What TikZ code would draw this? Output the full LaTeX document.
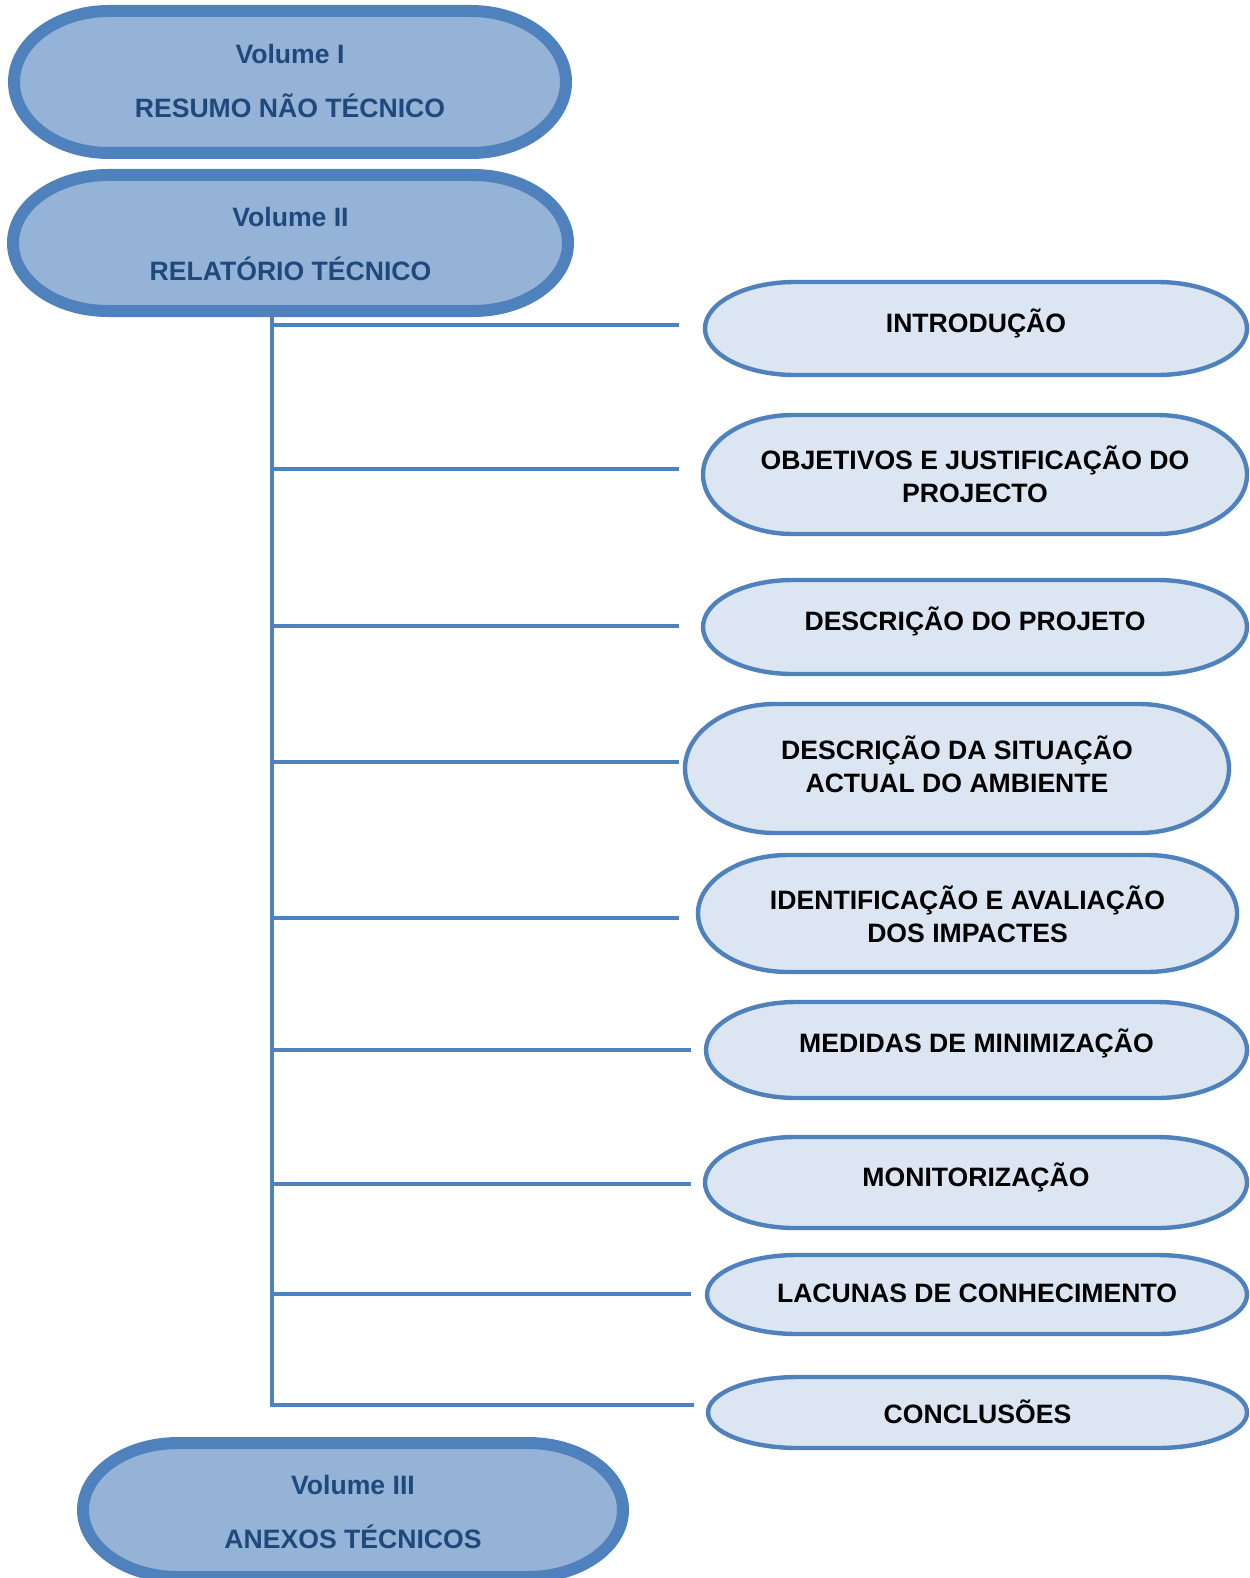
\documentclass[tikz,border=0pt]{standalone}
\usepackage{fontspec}
\setmainfont{Liberation Sans}
\definecolor{bord}{HTML}{4F81BD}
\definecolor{volfill}{HTML}{95B3D7}
\definecolor{secfill}{HTML}{DCE6F2}
\definecolor{voltext}{HTML}{1F497D}
\newcommand\hs{\rule{0pt}{14pt}}
\newcommand\ds{\rule[-4.5pt]{0pt}{4.5pt}}
% #1 name, #2 x1, #3 y1, #4 x2, #5 y2, #6 rx, #7 style, #8 text y, #9 text
\newcommand\capsule[9]{%
  \path[#7] ({#2+#6},#3) -- ({#4-#6},#3)
    arc[start angle=90,end angle=-90,x radius={#6*0.5pt},y radius={(#5-#3)*0.25pt}]
    -- ({#2+#6},#5)
    arc[start angle=270,end angle=90,x radius={#6*0.5pt},y radius={(#5-#3)*0.25pt}]
    -- cycle;
  \node[lbl, #7lbl] (#1) at ({(#2+#4)/2},#8) {#9};}
\tikzset{
  lbl/.style={font=\fontsize{13.3}{16.5}\selectfont\bfseries, align=center, inner sep=0pt},
  volbox/.style={draw=bord, fill=volfill, line width=6pt},
  volboxlbl/.style={text=voltext},
  secbox/.style={draw=bord, fill=secfill, line width=2.2pt},
  secboxlbl/.style={text=black},
  conn/.style={draw=bord, line width=1.6pt},
}
\begin{document}
\begin{tikzpicture}[x=0.5pt,y=-0.5pt]
\useasboundingbox (0,0) rectangle (1249,1578);
\clip (0,0) rectangle (1249,1578);
% connectors
\coordinate (t0) at (272,311);
\coordinate (t9) at (272,1405);
\coordinate (e1) at (679,325);
\coordinate (e2) at (679,469);
\coordinate (e3) at (679,626);
\coordinate (e4) at (679,762);
\coordinate (e5) at (679,918);
\coordinate (e6) at (691,1050);
\coordinate (e7) at (691,1184);
\coordinate (e8) at (691,1294);
\coordinate (e9) at (694,1405);
\draw[conn] (t0) -- (t9) -- (e9);
\foreach \e in {e1,e2,e3,e4,e5,e6,e7,e8}{\draw[conn] (t0 |- \e) -- (\e);}
% volume boxes
\capsule{v1}{14}{11}{566}{153}{95}{volbox}{81}{\hs Volume I\\[10.5pt]RESUMO NÃO TÉCNICO\ds}
\capsule{v2}{13}{175}{568}{311}{95}{volbox}{244}{\hs Volume II\\[10.5pt]RELATÓRIO TÉCNICO\ds}
\capsule{v3}{83}{1443}{623}{1577}{95}{volbox}{1511.5}{\hs Volume III\\[10.5pt]ANEXOS TÉCNICOS\ds}
% section boxes
\capsule{s1}{705}{282}{1247}{375}{90}{secbox}{323}{\hs INTRODUÇÃO\ds}
\capsule{s2}{703}{415}{1247}{534}{90}{secbox}{476.5}{\hs OBJETIVOS E JUSTIFICAÇÃO DO\\PROJECTO\ds}
\capsule{s3}{703}{580}{1247}{674}{90}{secbox}{621}{\hs DESCRIÇÃO DO PROJETO\ds}
\capsule{s4}{685}{704}{1229}{833}{90}{secbox}{766.5}{\hs DESCRIÇÃO DA SITUAÇÃO\\ACTUAL DO AMBIENTE\ds}
\capsule{s5}{698}{855}{1237}{972}{90}{secbox}{916}{\hs IDENTIFICAÇÃO E AVALIAÇÃO\\DOS IMPACTES\ds}
\capsule{s6}{706}{1002}{1247}{1098}{90}{secbox}{1043}{\hs MEDIDAS DE MINIMIZAÇÃO\ds}
\capsule{s7}{705}{1137}{1247}{1228}{90}{secbox}{1177}{\hs MONITORIZAÇÃO\ds}
\capsule{s8}{707}{1255}{1247}{1334}{90}{secbox}{1293}{\hs LACUNAS DE CONHECIMENTO\ds}
\capsule{s9}{708}{1377}{1247}{1448}{90}{secbox}{1414}{\hs CONCLUSÕES\ds}
\end{tikzpicture}
\end{document}
